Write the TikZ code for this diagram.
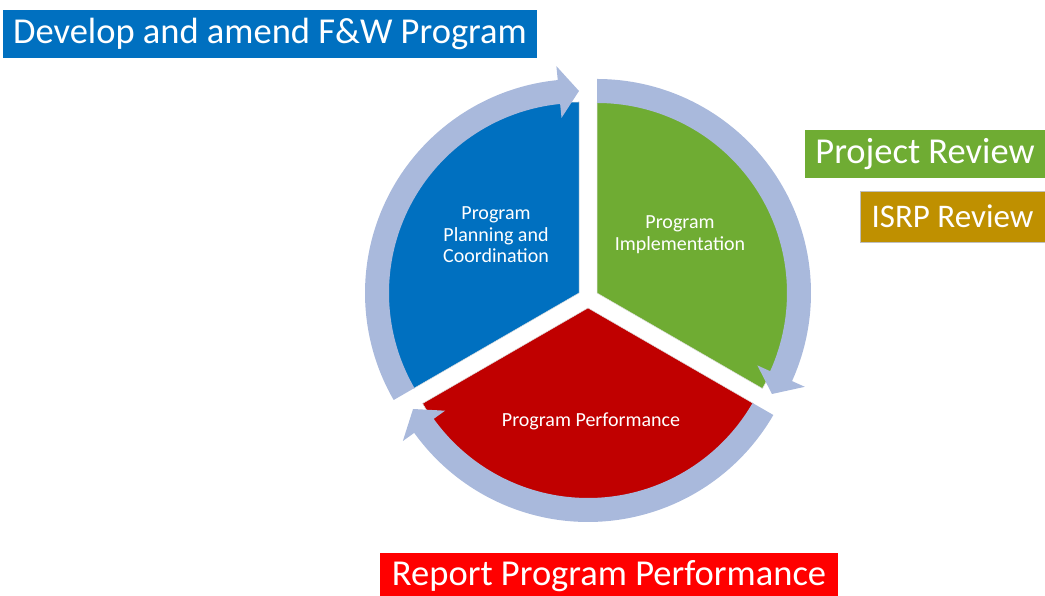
\documentclass[tikz,border=0pt]{standalone}
\usepackage{fontspec}
\setmainfont{Carlito}
\usetikzlibrary{calc,positioning}

\definecolor{cycblue}{HTML}{0070C0}
\definecolor{cycgreen}{HTML}{6FAC33}
\definecolor{cycred}{HTML}{C00000}
\definecolor{ringblue}{HTML}{A9B9DC}
\definecolor{isrpgold}{HTML}{BF9000}
\definecolor{brightred}{HTML}{FF0000}

\tikzset{
  wedge/.style={draw=gray!25,line width=0.5pt},
  banner/.style={text=white,inner sep=0pt,font=\fontsize{36.5}{40}\selectfont},
  segtext/.style={text=white,align=center,font=\fontsize{20}{21.5}\selectfont}
}

% arrow band round a segment: vertex, start angle, end angle (clockwise)
\newcommand{\cycarrow}[3]{%
  \fill[ringblue] ($(#1)+(#2:190pt)$) arc[start angle=#2,end angle=#3+5.7,radius=190pt]
    -- ($(#1)+(#3+5.7:176pt)$) -- ($(#1)+(#3:202pt)$) -- ($(#1)+(#3+5.7:228pt)$)
    -- ($(#1)+(#3+5.7:214pt)$) arc[start angle=#3+5.7,end angle=#2,radius=214pt] -- cycle;}

\begin{document}
\begin{tikzpicture}[x=1pt,y=1pt]
\useasboundingbox (0,0) rectangle (1045,596);
\coordinate (bv) at (579,303);
\coordinate (gv) at (597,303);
\coordinate (rv) at (588,288);
% segments
\filldraw[cycblue,wedge] (bv) -- ++(90:191pt) arc[start angle=90,end angle=210,radius=191pt] -- cycle;
\filldraw[cycgreen,wedge] (gv) -- ++(-30:191pt) arc[start angle=-30,end angle=90,radius=191pt] -- cycle;
\filldraw[cycred,wedge] (rv) -- ++(210:191pt) arc[start angle=210,end angle=330,radius=191pt] -- cycle;
% arrows
\cycarrow{bv}{210}{90}
\cycarrow{gv}{90}{-30}
\cycarrow{rv}{330}{210}
% texts
\node[segtext] (plan) at (496,361) {Program\\Planning and\\Coordination};
\node[segtext] (impl) at (680,361.5) {Program\\Implementation};
\node[segtext] (perf) at (591,175) {Program Performance};
% banners
\node[banner,fill=cycblue,minimum width=534,minimum height=48] (develop) at (270,562) {Develop and amend F\&W Program};
\node[banner,fill=cycgreen,minimum width=240,minimum height=48] (project) at (925,442) {Project Review};
\node[banner,fill=isrpgold,draw=gray!50,minimum width=185,minimum height=51,font=\fontsize{33}{36}\selectfont] (isrp) at (952.5,379.5) {ISRP Review};
\node[banner,fill=brightred,minimum width=458,minimum height=47] (report) at (609,19.5) {Report Program Performance};
\end{tikzpicture}
\end{document}
